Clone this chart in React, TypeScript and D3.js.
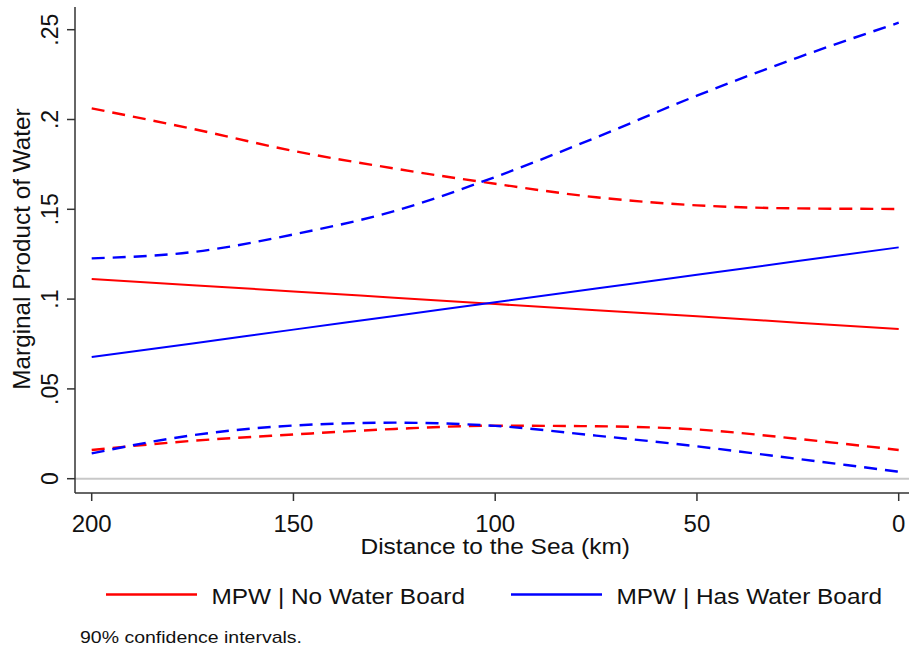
import React from "react";
import * as d3 from "d3";

const distances = [200, 175, 150, 125, 100, 75, 50, 25, 0];
const noBoardMPW = [0.1112, 0.1077, 0.1043, 0.1008, 0.0973, 0.0938, 0.0904, 0.0869, 0.0834];
const noBoardUpper = [0.2062, 0.1948, 0.1825, 0.1727, 0.1642, 0.1567, 0.1522, 0.1505, 0.1502];
const noBoardLower = [0.016, 0.0211, 0.0246, 0.0277, 0.0295, 0.0292, 0.0274, 0.0222, 0.016];
const hasBoardMPW = [0.0677, 0.0753, 0.083, 0.0906, 0.0983, 0.1059, 0.1135, 0.1212, 0.1288];
const hasBoardUpper = [0.1227, 0.1262, 0.136, 0.149, 0.168, 0.19, 0.2133, 0.2345, 0.2539];
const hasBoardLower = [0.0141, 0.0242, 0.0296, 0.0312, 0.0294, 0.024, 0.018, 0.011, 0.0039];

const xTicks = [200, 150, 100, 50, 0];
const yTicks = [0, 0.05, 0.1, 0.15, 0.2, 0.25];
const yTickLabels = ["0", ".05", ".1", ".15", ".2", ".25"];
const legendLabels = ["MPW | No Water Board", "MPW | Has Water Board"];
const RED = "#ff0000";
const BLUE = "#0000ff";
const FONT = "'Liberation Sans', Arial, sans-serif";

function SText(props: { x: number; y: number; size: number; sy: number; anchor?: string; children: React.ReactNode }) {
  return (
    <text transform={`translate(${props.x},${props.y}) scale(1,${props.sy})`} textAnchor={props.anchor ?? "start"}
      fontSize={props.size} fill="#111">
      {props.children}
    </text>
  );
}

export default function App() {
  const W = 909, H = 651;
  const x = d3.scaleLinear().domain([200, 0]).range([91.7, 898.7]);
  const y = d3.scaleLinear().domain([0, 0.25]).range([478.7, 29.7]);
  const line = (vals: number[]) =>
    d3.line<number>()
      .x((_, i) => x(distances[i]))
      .y((v) => y(v))
      .curve(d3.curveMonotoneX)(vals) as string;

  const axisLeft = 75;
  const axisBottom = 493;

  const series = [
    { vals: noBoardUpper, color: RED, dash: "13,8" },
    { vals: noBoardLower, color: RED, dash: "13,8" },
    { vals: hasBoardUpper, color: BLUE, dash: "13,8" },
    { vals: hasBoardLower, color: BLUE, dash: "13,8" },
    { vals: noBoardMPW, color: RED, dash: null },
    { vals: hasBoardMPW, color: BLUE, dash: null },
  ];

  return (
    <svg width={W} height={H} style={{ position: "absolute", left: 0, top: 0, background: "#fff" }}
      fontFamily={FONT}>
      <rect x={0} y={0} width={W} height={H} fill="#fff" />
      <line x1={axisLeft} x2={W} y1={y(0)} y2={y(0)} stroke="#c8c8c8" strokeWidth={2} />
      <line x1={axisLeft} x2={axisLeft} y1={7} y2={axisBottom} stroke="#333" strokeWidth={1.5} />
      <line x1={axisLeft} x2={W} y1={axisBottom} y2={axisBottom} stroke="#333" strokeWidth={1.5} />
      {yTicks.map((t, i) => (
        <g key={"y" + i}>
          <line x1={axisLeft - 8} x2={axisLeft} y1={y(t)} y2={y(t)} stroke="#333" strokeWidth={1.5} />
          <text transform={`translate(58,${y(t)}) rotate(-90)`} textAnchor="middle" fontSize={23} fill="#111">
            {yTickLabels[i]}
          </text>
        </g>
      ))}
      {xTicks.map((t, i) => (
        <g key={"x" + i}>
          <line x1={x(t)} x2={x(t)} y1={axisBottom} y2={axisBottom + 8} stroke="#333" strokeWidth={1.5} />
          <SText x={x(t)} y={531.5} size={24} sy={0.96} anchor="middle">{t}</SText>
        </g>
      ))}
      <SText x={(x(200) + x(0)) / 2} y={553.5} size={24.5} sy={0.9} anchor="middle">
        Distance to the Sea (km)
      </SText>
      <text transform={`translate(30,249) rotate(-90)`} textAnchor="middle" fontSize={24.3} fill="#111">
        Marginal Product of Water
      </text>
      {series.map((s, i) => (
        <path key={"s" + i} d={line(s.vals)} fill="none" stroke={s.color}
          strokeWidth={s.dash ? 2.4 : 2}
          strokeDasharray={s.dash ?? undefined} />
      ))}
      <line x1={106} x2={197} y1={594.5} y2={594.5} stroke={RED} strokeWidth={2.5} />
      <SText x={211.5} y={604.3} size={24.4} sy={0.87}>{legendLabels[0]}</SText>
      <line x1={511} x2={602} y1={594.5} y2={594.5} stroke={BLUE} strokeWidth={2.5} />
      <SText x={616.5} y={604.3} size={24.4} sy={0.87}>{legendLabels[1]}</SText>
      <SText x={80} y={643} size={19.5} sy={0.85}>90% confidence intervals.</SText>
    </svg>
  );
}
